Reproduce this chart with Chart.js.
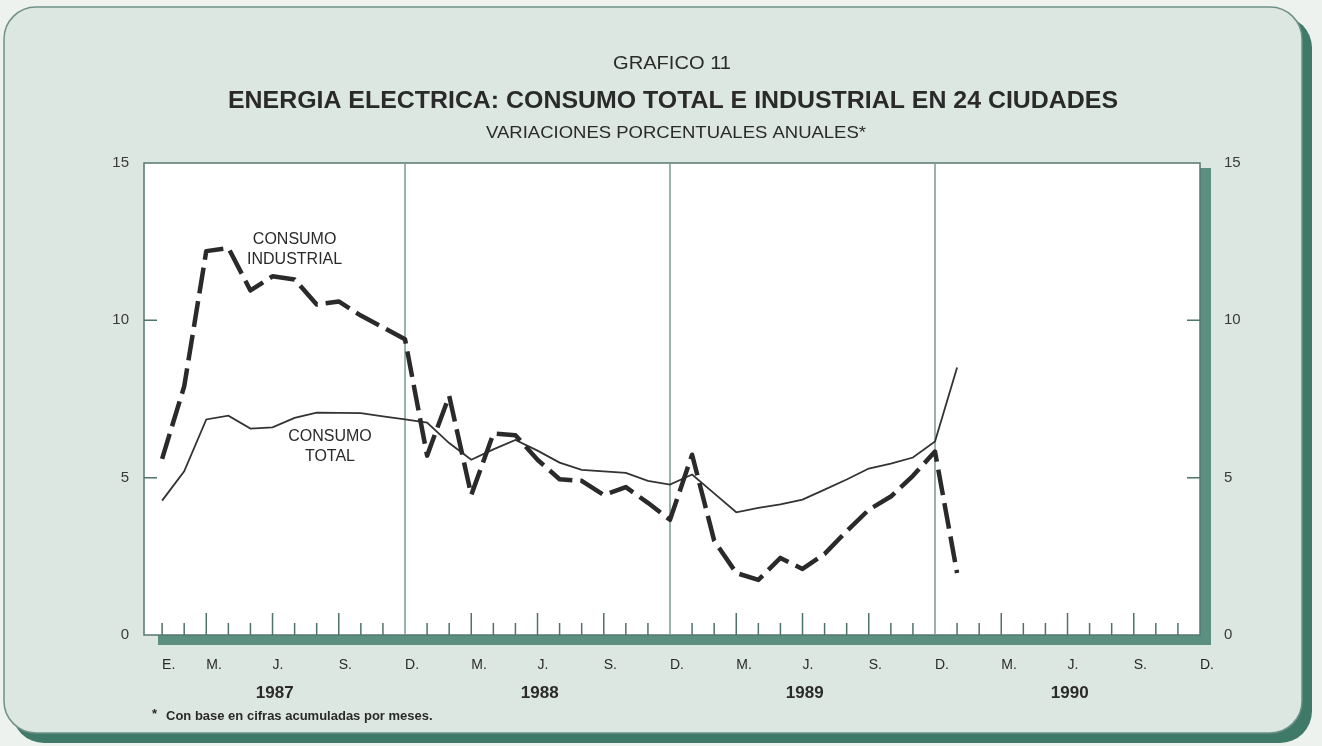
<!DOCTYPE html>
<html lang="es">
<head>
<meta charset="utf-8">
<title>Grafico 11</title>
<script src="https://cdn.jsdelivr.net/npm/chart.js@4.4.1/dist/chart.umd.min.js"></script>
<style>
  html, body { margin: 0; padding: 0; background: #eef2ef; }
</style>
</head>
<body>
<canvas id="grafico" width="1322" height="746"></canvas>
<script>
// ========================
// Grafico 11 - energia electrica
// ========================

// indice de mes: 0 = enero 1987 ... 47 = diciembre 1990
const etiquetasMes = ['E.', '', 'M.', '', '', 'J.', '', '', 'S.', '', '', 'D.'];
const anios = ['1987', '1988', '1989', '1990'];
const ticksY = [0, 5, 10, 15];

// variaciones porcentuales anuales, enero 1987 a enero 1990
const consumoTotal = [
    4.27, 5.2, 6.85, 6.97, 6.56, 6.6, 6.9, 7.07, 7.06, 7.05, 6.95, 6.85,
    6.75, 6.1, 5.57, 5.9, 6.2, 5.86, 5.48, 5.25, 5.2, 5.15, 4.9, 4.78,
    5.1, 4.5, 3.9, 4.04, 4.15, 4.3, 4.62, 4.94, 5.29, 5.45, 5.64, 6.15,
    8.5
];
const consumoIndustrial = [
    5.6, 7.9, 12.2, 12.3, 10.95, 11.4, 11.3, 10.5, 10.6, 10.15, 9.78, 9.4,
    5.7, 7.6, 4.45, 6.4, 6.35, 5.57, 4.95, 4.9, 4.45, 4.7, 4.2, 3.66,
    5.73, 3.0, 1.97, 1.75, 2.45, 2.1, 2.58, 3.3, 3.98, 4.4, 5.06, 5.83,
    1.97
];

const FUENTE = 'Liberation Sans, Arial, sans-serif';
const TINTA = '#2a2a2a';

function textoAjustado(ctx, texto, cx, cy, font, ancho) {
    ctx.save();
    ctx.font = font;
    const w = ctx.measureText(texto).width;
    ctx.translate(cx, cy);
    ctx.scale(ancho / w, 1);
    ctx.textAlign = 'center';
    ctx.textBaseline = 'middle';
    ctx.fillText(texto, 0, 0);
    ctx.restore();
}

function rectRedondo(ctx, x, y, w, h, r) {
    ctx.beginPath();
    ctx.moveTo(x + r, y);
    ctx.arcTo(x + w, y, x + w, y + h, r);
    ctx.arcTo(x + w, y + h, x, y + h, r);
    ctx.arcTo(x, y + h, x, y, r);
    ctx.arcTo(x, y, x + w, y, r);
    ctx.closePath();
}

const marco = {
    id: 'marco',
    beforeDraw(chart) {
        const ctx = chart.ctx;
        const a = chart.chartArea;
        ctx.save();
        ctx.fillStyle = '#eef2ef';
        ctx.fillRect(0, 0, chart.width, chart.height);
        // marco exterior con sombra gruesa abajo y a la derecha
        rectRedondo(ctx, 12, 16, 1300, 727, 32);
        ctx.fillStyle = '#3f7a68';
        ctx.fill();
        rectRedondo(ctx, 4, 7, 1298, 726, 32);
        ctx.fillStyle = '#dde7e1';
        ctx.fill();
        ctx.strokeStyle = '#6f9188';
        ctx.lineWidth = 1.5;
        ctx.stroke();
        // sombra verde del area del grafico
        ctx.fillStyle = '#5b8f7f';
        ctx.fillRect(a.left + 14, a.bottom, a.right - a.left - 3, 10);
        ctx.fillRect(a.right, a.top + 5, 11, a.bottom - a.top + 5);
        ctx.fillStyle = '#ffffff';
        ctx.fillRect(a.left, a.top, a.right - a.left, a.bottom - a.top);
        ctx.strokeStyle = '#56786f';
        ctx.lineWidth = 1.5;
        ctx.strokeRect(a.left, a.top, a.right - a.left, a.bottom - a.top);
        ctx.restore();
    },
    beforeDatasetsDraw(chart) {
        const ctx = chart.ctx;
        const a = chart.chartArea;
        const xs = chart.scales.x;
        const ys = chart.scales.y;
        ctx.save();
        ctx.lineWidth = 1.5;
        for (let i = 0; i < 47; i++) {
            const x = xs.getPixelForValue(i);
            const m = i % 12;
            ctx.beginPath();
            if (m === 11) {
                ctx.strokeStyle = '#7a9a92';
                ctx.moveTo(x, a.top);
            } else {
                ctx.strokeStyle = '#4f726a';
                ctx.moveTo(x, a.bottom - (m === 2 || m === 5 || m === 8 ? 22 : 12));
            }
            ctx.lineTo(x, a.bottom);
            ctx.stroke();
        }
        ctx.strokeStyle = '#4f726a';
        [5, 10].forEach(v => {
            const y = ys.getPixelForValue(v);
            ctx.beginPath();
            ctx.moveTo(a.left, y);
            ctx.lineTo(a.left + 13, y);
            ctx.moveTo(a.right - 13, y);
            ctx.lineTo(a.right, y);
            ctx.stroke();
        });
        ctx.restore();
    },
    afterDraw(chart) {
        const ctx = chart.ctx;
        const xs = chart.scales.x;
        const ys = chart.scales.y;
        ctx.save();
        ctx.fillStyle = TINTA;
        // encabezado
        textoAjustado(ctx, 'GRAFICO 11', 672, 64, '18px ' + FUENTE, 118);
        textoAjustado(ctx, 'ENERGIA ELECTRICA: CONSUMO TOTAL E INDUSTRIAL EN 24 CIUDADES', 673, 101, 'bold 24px ' + FUENTE, 890);
        textoAjustado(ctx, 'VARIACIONES PORCENTUALES ANUALES*', 676, 133, '17px ' + FUENTE, 380);

        // anios bajo el eje
        ctx.font = 'bold 17px ' + FUENTE;
        ctx.textAlign = 'center';
        ctx.textBaseline = 'middle';
        anios.forEach((t, k) => {
            ctx.fillText(t, xs.getPixelForValue(12 * k + 5.1), 693);
        });

        // rotulos de las series
        ctx.font = '16px ' + FUENTE;
        ctx.fillText('CONSUMO', xs.getPixelForValue(6.0), ys.getPixelForValue(12.55));
        ctx.fillText('INDUSTRIAL', xs.getPixelForValue(6.0), ys.getPixelForValue(11.92));
        ctx.fillText('CONSUMO', xs.getPixelForValue(7.6), ys.getPixelForValue(6.29));
        ctx.fillText('TOTAL', xs.getPixelForValue(7.6), ys.getPixelForValue(5.66));

        // nota
        ctx.textAlign = 'left';
        ctx.font = 'bold 13px ' + FUENTE;
        ctx.fillText('*', 152, 714);
        ctx.fillText('Con base en cifras acumuladas por meses.', 166, 716);
        ctx.restore();
    }
};

const ejeY = (posicion, relleno, ancho) => ({
    type: 'linear',
    position: posicion,
    min: 0,
    max: 15,
    afterBuildTicks: s => { s.ticks = ticksY.map(v => ({ value: v })); },
    afterFit: s => { s.width = ancho; },
    grid: { display: false },
    border: { display: false },
    ticks: { color: '#3a3a3a', padding: relleno, font: { family: FUENTE, size: 15 } }
});

const config = {
    type: 'line',
    data: {
        datasets: [{
            label: 'Consumo industrial',
            data: consumoIndustrial.map((v, i) => ({ x: i, y: v })),
            borderColor: TINTA,
            borderWidth: 4.5,
            borderDash: [26, 8],
            borderJoinStyle: 'round',
            pointRadius: 0,
            tension: 0
        }, {
            label: 'Consumo total',
            data: consumoTotal.map((v, i) => ({ x: i, y: v })),
            borderColor: '#333333',
            borderWidth: 1.8,
            pointRadius: 0,
            tension: 0
        }]
    },
    options: {
        responsive: false,
        animation: false,
        devicePixelRatio: 1,
        layout: { padding: { top: 163, left: 0, right: 0, bottom: 0 } },
        plugins: {
            legend: { display: false },
            tooltip: { enabled: false }
        },
        scales: {
            x: {
                type: 'linear',
                position: 'bottom',
                min: -0.82,
                max: 47,
                afterBuildTicks: s => {
                    s.ticks = Array.from({ length: 48 }, (_, i) => ({ value: i }));
                },
                afterFit: s => { s.height = 111; },
                grid: { display: false },
                border: { display: false },
                ticks: {
                    autoSkip: false,
                    maxRotation: 0,
                    align: 'start',
                    padding: 14,
                    color: TINTA,
                    font: { family: FUENTE, size: 14 },
                    callback: v => (v > 0 && v % 12 === 0) ? '' : etiquetasMes[v % 12]
                }
            },
            y: ejeY('left', 7, 144),
            y2: ejeY('right', 16, 122)
        }
    },
    plugins: [marco]
};

window.addEventListener('DOMContentLoaded', () => {
    new Chart(document.getElementById('grafico').getContext('2d'), config);
});
</script>
</body>
</html>
